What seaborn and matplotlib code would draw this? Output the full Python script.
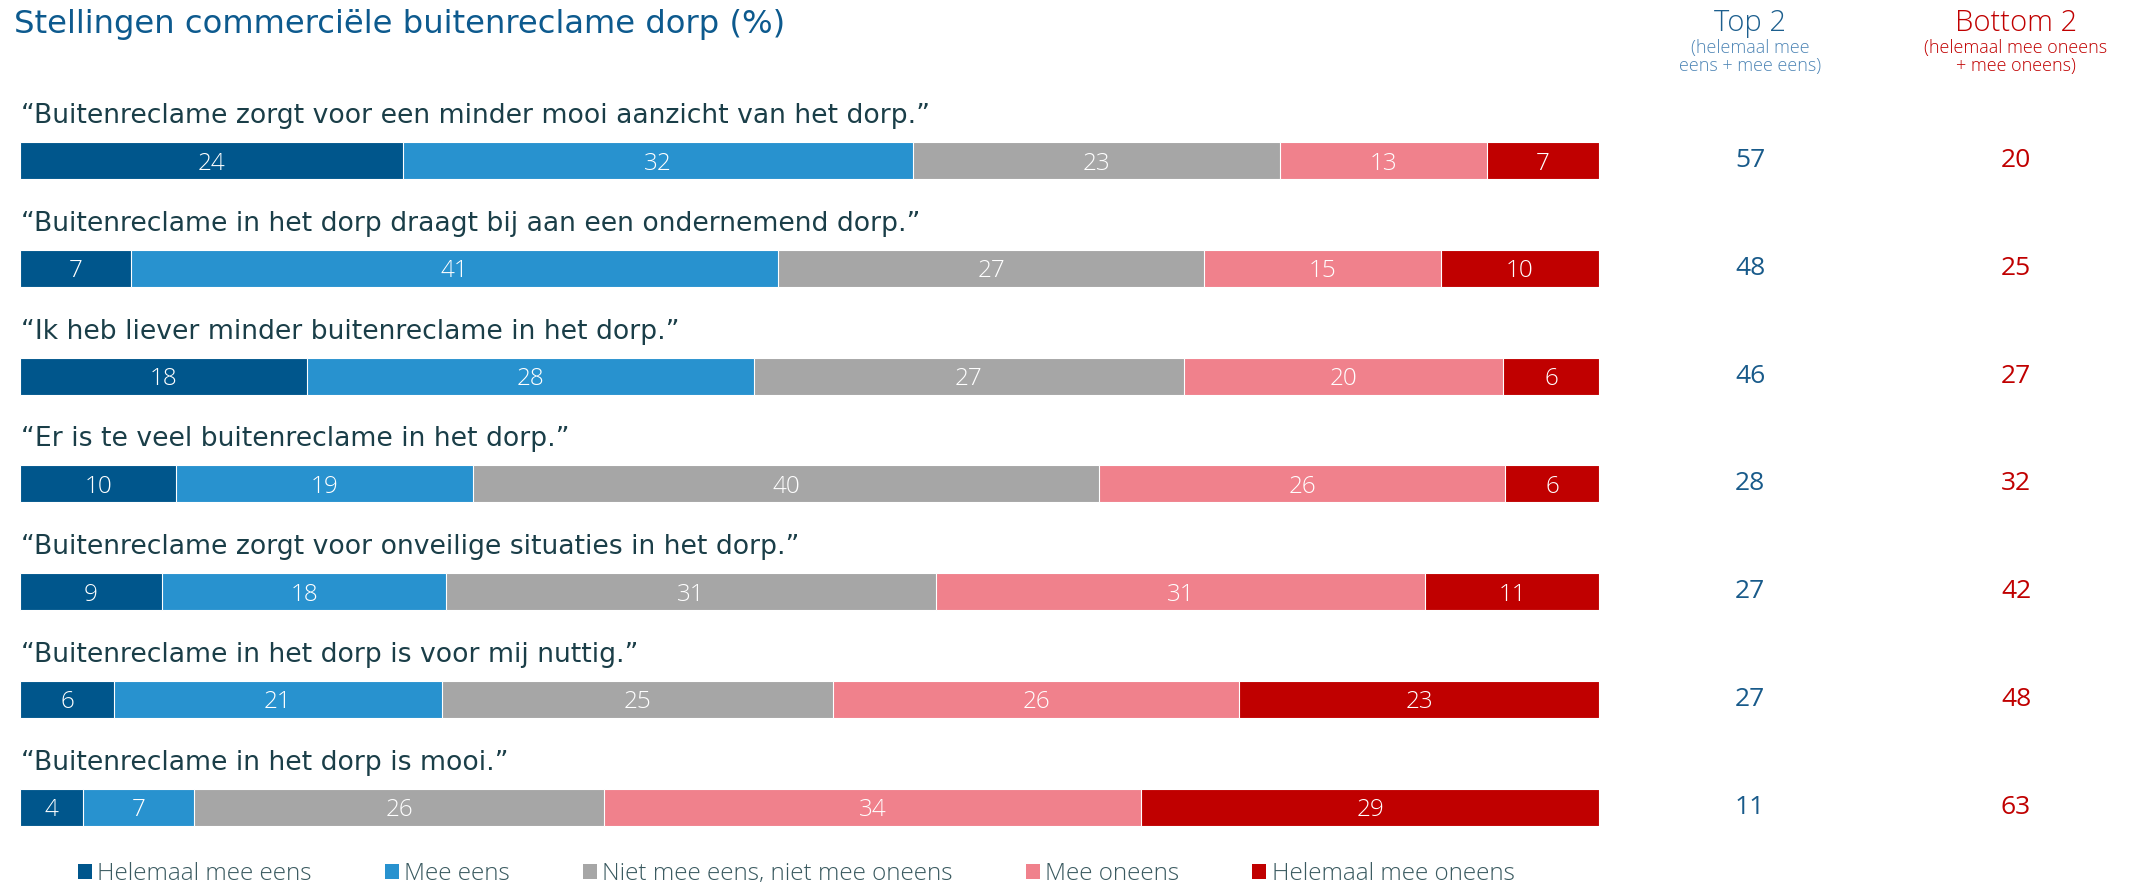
import numpy as np
import matplotlib
matplotlib.use("Agg")
import matplotlib.pyplot as plt
import matplotlib.transforms as mtransforms
from matplotlib.patches import Patch
import seaborn as sns

# data
statements = [
    "“Buitenreclame zorgt voor een minder mooi aanzicht van het dorp.”",
    "“Buitenreclame in het dorp draagt bij aan een ondernemend dorp.”",
    "“Ik heb liever minder buitenreclame in het dorp.”",
    "“Er is te veel buitenreclame in het dorp.”",
    "“Buitenreclame zorgt voor onveilige situaties in het dorp.”",
    "“Buitenreclame in het dorp is voor mij nuttig.”",
    "“Buitenreclame in het dorp is mooi.”",
]
categories = [
    "Helemaal mee eens",
    "Mee eens",
    "Niet mee eens, niet mee oneens",
    "Mee oneens",
    "Helemaal mee oneens",
]
helemaal_eens = [24, 7, 18, 10, 9, 6, 4]
mee_eens = [32, 41, 28, 19, 18, 21, 7]
neutraal = [23, 27, 27, 40, 31, 25, 26]
mee_oneens = [13, 15, 20, 26, 31, 26, 34]
helemaal_oneens = [7, 10, 6, 6, 11, 23, 29]
top2 = [57, 48, 46, 28, 27, 27, 11]
bottom2 = [20, 25, 27, 32, 42, 48, 63]

colors = ["#00568c", "#2892cf", "#a6a6a6", "#f0818c", "#c00000"]

sns.set_theme(style="white")
plt.rcParams["font.family"] = ["Open Sans", "DejaVu Sans"]

W, H = 2139, 882
fig = plt.figure(figsize=(W / 100, H / 100), dpi=100)
ax = fig.add_axes([20 / W, 0, 1579 / W, 1])

values = np.array([helemaal_eens, mee_eens, neutraal, mee_oneens, helemaal_oneens], dtype=float).T
shares = values / values.sum(axis=1, keepdims=True) * 100
cum = shares.cumsum(axis=1)

row0, step = 160.5, 107.8   # pixel centre of first bar, pixel distance between bars


def py(px):
    return (px - row0) / step


# stacked bars: draw longest cumulative first, shorter ones on top
for k in range(len(categories) - 1, -1, -1):
    sns.barplot(x=cum[:, k], y=statements, color=colors[k], saturation=1,
                width=37 / step, orient="h", edgecolor="white", linewidth=0.8, ax=ax)

for i, st in enumerate(statements):
    ax.text(0.05, i + py(123), st, ha="left", va="baseline",
            fontsize=19.2, color="#1a3e48", family="DejaVu Sans")
    for k in range(len(categories)):
        mid = cum[i, k] - shares[i, k] / 2
        ax.text(mid, i + 9 / step, f"{int(values[i, k])}", ha="center", va="baseline",
                fontsize=17.5, color="white", fontweight="light")

ax.set_xlim(0, 100)
ax.set_ylim(py(H), py(0))
ax.axis("off")

# Top 2 / Bottom 2 columns
trans = mtransforms.blended_transform_factory(fig.transFigure, ax.transData)
for i in range(len(statements)):
    ax.text(1750 / W, i + 6.5 / step, str(top2[i]), transform=trans, ha="center",
            va="baseline", fontsize=19, color="#185a8a")
    ax.text(2016 / W, i + 6.5 / step, str(bottom2[i]), transform=trans, ha="center",
            va="baseline", fontsize=19, color="#c00000")

fig.text(14 / W, 1 - 33 / H, "Stellingen commerciële buitenreclame dorp (%)",
         ha="left", va="baseline", fontsize=23.2, color="#0d5a8e", family="DejaVu Sans")

fig.text(1750 / W, 1 - 31 / H, "Top 2", ha="center", va="baseline", fontsize=21,
         color="#1d5f8e", fontweight="light")
fig.text(1750 / W, 1 - 48 / H, "(helemaal mee", ha="center", va="center", fontsize=13,
         color="#4f86b6", fontweight="light")
fig.text(1750 / W, 1 - 66 / H, "eens + mee eens)", ha="center", va="center", fontsize=13,
         color="#4f86b6", fontweight="light")
fig.text(2016 / W, 1 - 31 / H, "Bottom 2", ha="center", va="baseline", fontsize=21,
         color="#c00000", fontweight="light")
fig.text(2016 / W, 1 - 48 / H, "(helemaal mee oneens", ha="center", va="center", fontsize=13,
         color="#c00000", fontweight="light")
fig.text(2016 / W, 1 - 66 / H, "+ mee oneens)", ha="center", va="center", fontsize=13,
         color="#c00000", fontweight="light")

handles = [Patch(facecolor=c, edgecolor="none", label=lab) for c, lab in zip(colors, categories)]
leg = fig.legend(handles=handles, loc="lower left", bbox_to_anchor=(78 / W, -4 / H),
                 ncol=5, frameon=False, fontsize=17.5, handlelength=0.58, handleheight=0.58,
                 handletextpad=0.22, columnspacing=3.0, borderpad=0, borderaxespad=0)
for t in leg.get_texts():
    t.set_color("#3a5a60")
    t.set_fontweight("light")

fig.savefig("out.png", dpi=100)
plt.close(fig)
